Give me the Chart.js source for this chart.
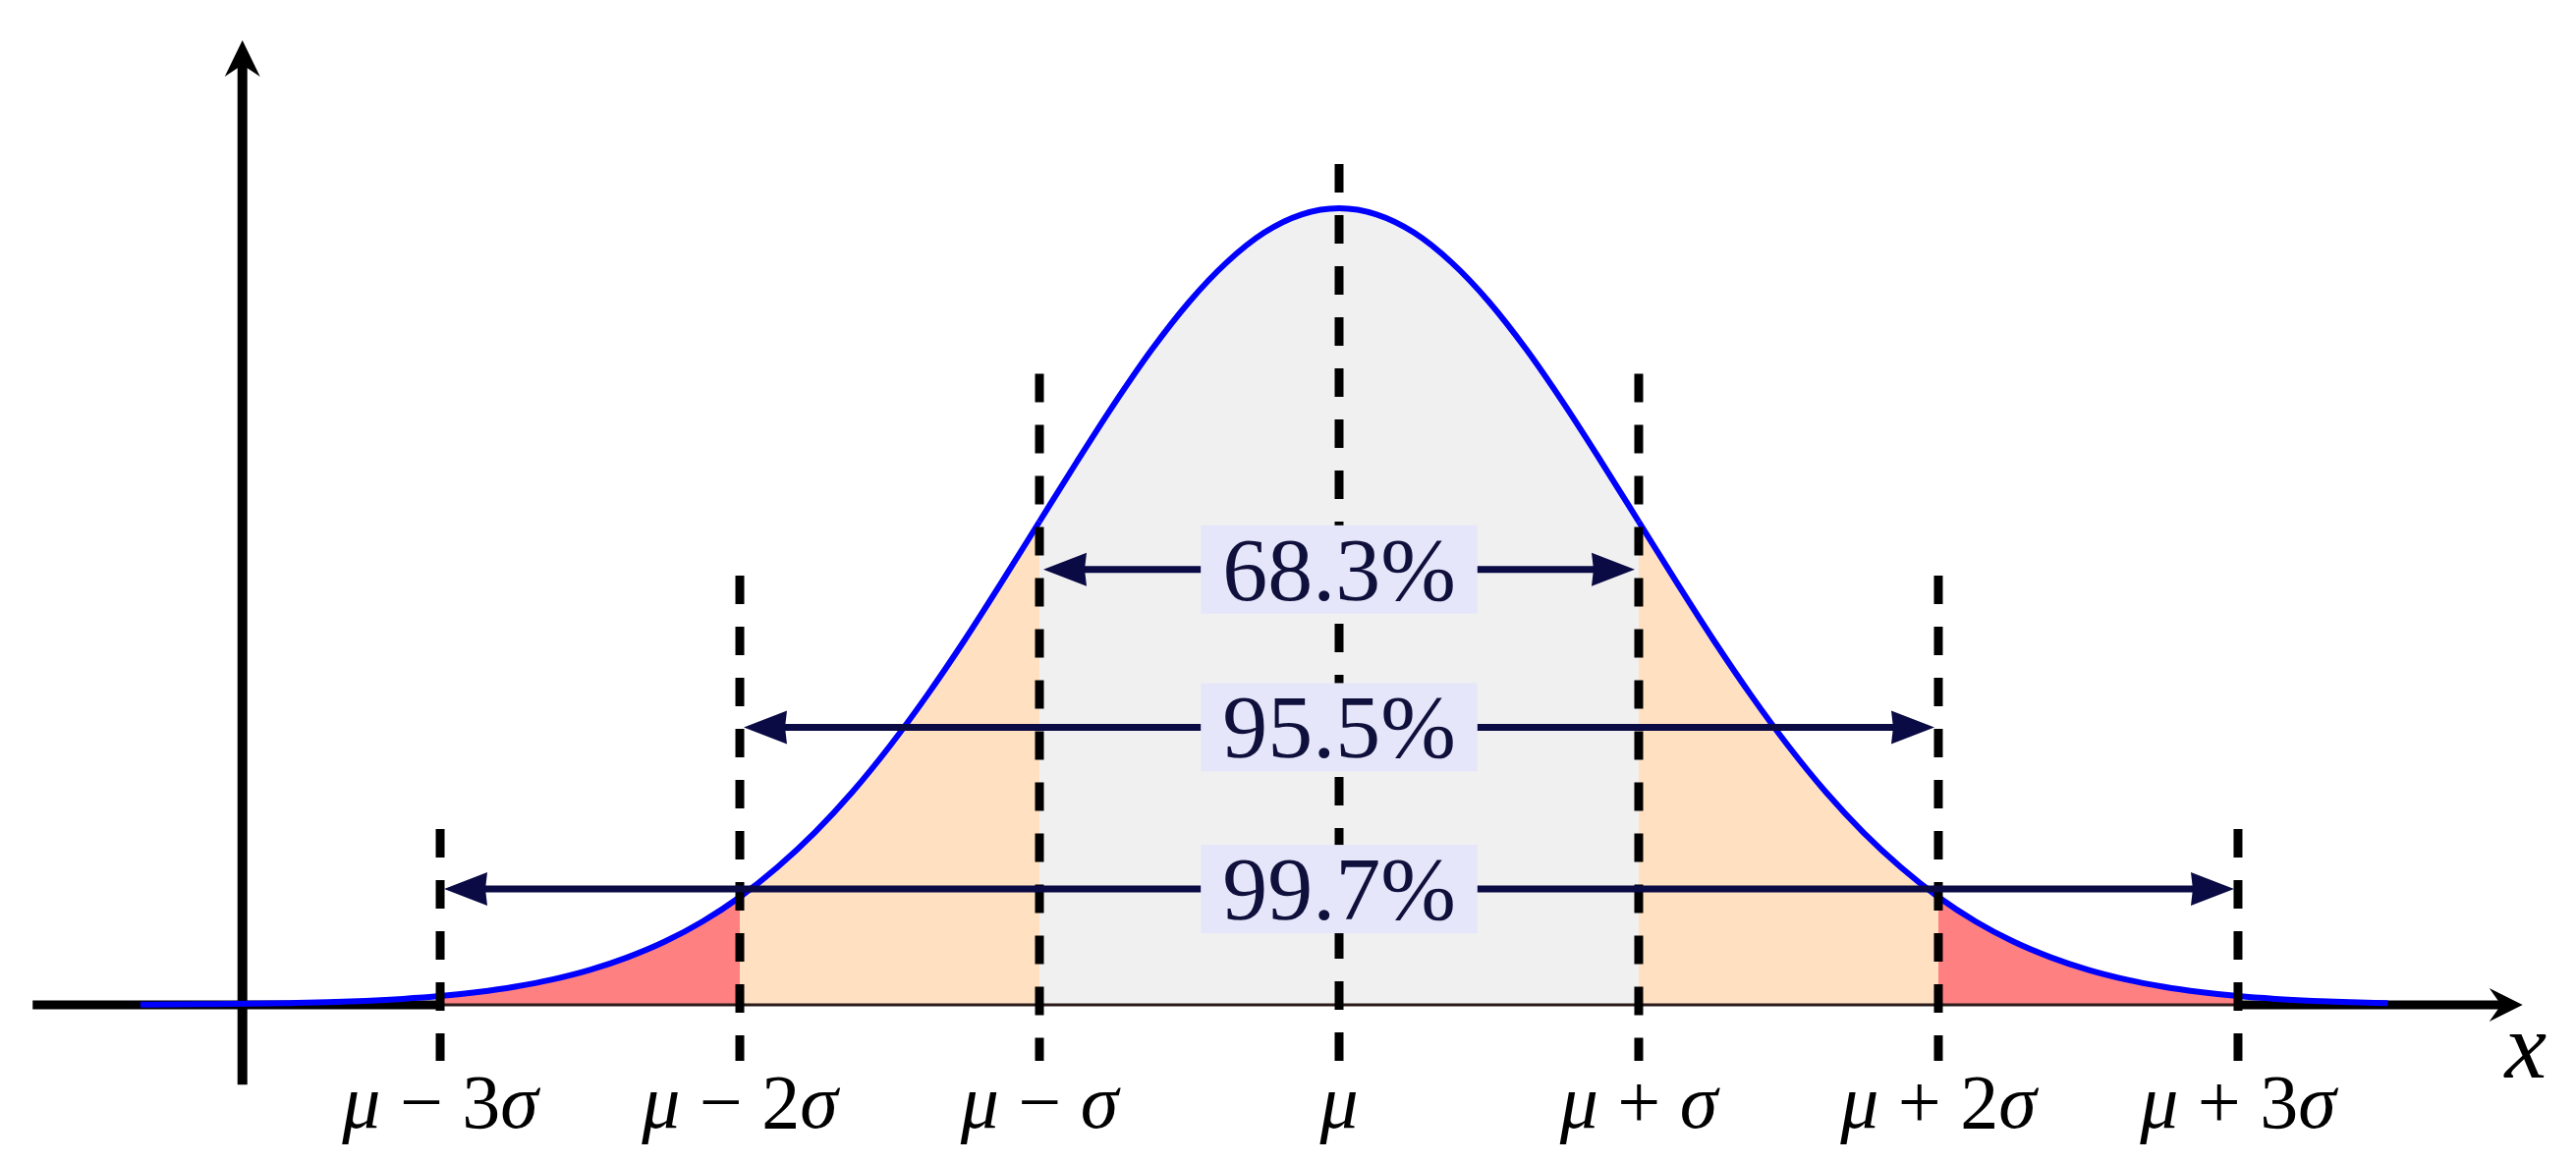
<!DOCTYPE html>
<html>
<head>
<meta charset="utf-8">
<script src="https://cdn.jsdelivr.net/npm/chart.js@4"></script>
<style>
  html, body { margin: 0; padding: 0; background: #fff; }
  #wrap { width: 2622px; height: 1184px; }
</style>
</head>
<body>
<div id="wrap"><canvas id="grafico" width="2622" height="1184"></canvas></div>
<script>
// curva: x em unidades de sigma, altura em densidade
const sigmaSteps = [-4, -3.875, -3.75, -3.625, -3.5, -3.375, -3.25, -3.125, -3, -2.875, -2.75, -2.625, -2.5, -2.375, -2.25, -2.125,
  -2, -1.875, -1.75, -1.625, -1.5, -1.375, -1.25, -1.125, -1, -0.875, -0.75, -0.625, -0.5, -0.375, -0.25, -0.125,
  0, 0.125, 0.25, 0.375, 0.5, 0.625, 0.75, 0.875, 1, 1.125, 1.25, 1.375, 1.5, 1.625, 1.75, 1.875,
  2, 2.125, 2.25, 2.375, 2.5, 2.625, 2.75, 2.875, 3, 3.125, 3.25, 3.375, 3.5];
const density = [0.0001, 0.0002, 0.0004, 0.0006, 0.0009, 0.0013, 0.0020, 0.0030, 0.0044, 0.0064, 0.0091, 0.0127, 0.0175, 0.0238, 0.0317, 0.0417,
  0.0540, 0.0689, 0.0863, 0.1065, 0.1295, 0.1550, 0.1826, 0.2119, 0.2420, 0.2720, 0.3011, 0.3282, 0.3521, 0.3718, 0.3867, 0.3958,
  0.3989, 0.3958, 0.3867, 0.3718, 0.3521, 0.3282, 0.3011, 0.2720, 0.2420, 0.2119, 0.1826, 0.1550, 0.1295, 0.1065, 0.0863, 0.0689,
  0.0540, 0.0417, 0.0317, 0.0238, 0.0175, 0.0127, 0.0091, 0.0064, 0.0044, 0.0030, 0.0020, 0.0013, 0.0009];

// linhas tracejadas e rotulos do eixo
const markerSteps = [-3, -2, -1, 0, 1, 2, 3];
const markerLabels = ['μ − 3σ', 'μ − 2σ', 'μ − σ', 'μ', 'μ + σ', 'μ + 2σ', 'μ + 3σ'];
const markerTops = [0.088, 0.215, 0.316, 0.421, 0.316, 0.215, 0.088];

// setas de intervalo
const rangeLabels = ['68.3%', '95.5%', '99.7%'];
const rangeSpans = [1, 2, 3];
const rangeLevels = [0.218, 0.139, 0.058];

const axisLabel = 'x';

const CORES = { cinza: '#f0f0f0', pessego: '#ffe0c0', vermelho: '#ff8080', azul: '#0000ff', marinho: '#0a0a44', caixa: '#e6e6fa' };

function corRegiao(ctx) {
  const m = Math.abs((ctx.p0.parsed.x + ctx.p1.parsed.x) / 2);
  if (m < 1) return CORES.cinza;
  if (m < 2) return CORES.pessego;
  if (m < 3) return CORES.vermelho;
  return 'rgba(0,0,0,0)';
}

function linha(ctx, x1, y1, x2, y2) {
  ctx.beginPath();
  ctx.moveTo(x1, y1);
  ctx.lineTo(x2, y2);
  ctx.stroke();
}

// ponta de seta "stealth": (dx, dy) = direcao unitaria
function ponta(ctx, tx, ty, dx, dy, comp, meia, recuo) {
  const nx = -dy, ny = dx;
  ctx.beginPath();
  ctx.moveTo(tx, ty);
  ctx.lineTo(tx - dx * comp + nx * meia, ty - dy * comp + ny * meia);
  ctx.lineTo(tx - dx * (comp - recuo), ty - dy * (comp - recuo));
  ctx.lineTo(tx - dx * comp - nx * meia, ty - dy * comp - ny * meia);
  ctx.closePath();
  ctx.fill();
}

function desenhaRotulo(ctx, texto, cx, base, tamanho) {
  const partes = [];
  for (const ch of texto) {
    const it = /[μσx]/.test(ch);
    if (partes.length && partes[partes.length - 1].it === it) partes[partes.length - 1].t += ch;
    else partes.push({ t: ch, it });
  }
  const fonte = p => (p.it ? 'italic ' : '') + tamanho + 'px "Liberation Serif"';
  let w = 0;
  partes.forEach(p => { ctx.font = fonte(p); p.w = ctx.measureText(p.t).width; w += p.w; });
  let xx = cx - w / 2;
  partes.forEach(p => { ctx.font = fonte(p); ctx.fillText(p.t, xx, base); xx += p.w; });
}

const desenho = {
  id: 'desenho',
  beforeDatasetsDraw(chart) {
    const { ctx, scales: { x, y } } = chart;
    const y0 = y.getPixelForValue(0);
    ctx.save();
    ctx.strokeStyle = '#000';
    ctx.fillStyle = '#000';
    // eixo x grosso fora de +-3 sigma
    ctx.lineWidth = 9;
    linha(ctx, x.getPixelForValue(-4.36), y0, x.getPixelForValue(-3), y0);
    const xFim = x.getPixelForValue(3.95);
    linha(ctx, x.getPixelForValue(3), y0, xFim - 20, y0);
    ponta(ctx, xFim, y0, 1, 0, 34, 17, 12);
    // eixo y
    const xa = x.getPixelForValue(-3.66);
    const yTopo = y.getPixelForValue(0.483);
    ctx.lineWidth = 10;
    linha(ctx, xa, yTopo + 20, xa, y.getPixelForValue(-0.040));
    ponta(ctx, xa, yTopo, 0, -1, 37, 18, 12);
    ctx.restore();
  },
  afterDatasetsDraw(chart) {
    const { ctx, scales: { x, y } } = chart;
    const y0 = y.getPixelForValue(0);
    ctx.save();
    // linha fina da base sob o preenchimento
    ctx.strokeStyle = '#2a1a1a';
    ctx.lineWidth = 3;
    linha(ctx, x.getPixelForValue(-3), y0, x.getPixelForValue(3), y0);

    // linhas tracejadas
    ctx.strokeStyle = '#000';
    ctx.lineWidth = 9;
    ctx.setLineDash([29, 23]);
    markerSteps.forEach((s, i) => {
      const px = x.getPixelForValue(s);
      linha(ctx, px, y.getPixelForValue(markerTops[i]), px, y.getPixelForValue(-0.028));
    });
    ctx.setLineDash([]);

    // setas com percentuais
    rangeLabels.forEach((txt, i) => {
      const yy = y.getPixelForValue(rangeLevels[i]);
      const xe = x.getPixelForValue(-rangeSpans[i]) + 4;
      const xd = x.getPixelForValue(rangeSpans[i]) - 4;
      ctx.strokeStyle = CORES.marinho;
      ctx.fillStyle = CORES.marinho;
      ctx.lineWidth = 7;
      linha(ctx, xe + 30, yy, xd - 30, yy);
      ponta(ctx, xe, yy, -1, 0, 44, 17, 2);
      ponta(ctx, xd, yy, 1, 0, 44, 17, 2);

      ctx.font = '92px "Liberation Serif"';
      const w = ctx.measureText(txt).width;
      const cx = x.getPixelForValue(0);
      ctx.fillStyle = CORES.caixa;
      ctx.fillRect(cx - w / 2 - 22, yy - 45, w + 44, 90);
      ctx.fillStyle = '#10103c';
      ctx.textAlign = 'center';
      ctx.textBaseline = 'alphabetic';
      ctx.fillText(txt, cx, yy + 31);
    });

    // rotulos do eixo x
    ctx.fillStyle = '#000';
    ctx.textAlign = 'left';
    ctx.textBaseline = 'alphabetic';
    markerLabels.forEach((lab, i) => {
      desenhaRotulo(ctx, lab, x.getPixelForValue(markerSteps[i]), y.getPixelForValue(-0.0615), 78);
    });
    desenhaRotulo(ctx, axisLabel, x.getPixelForValue(3.96), y.getPixelForValue(-0.0365), 96);
    ctx.restore();
  }
};

new Chart(document.getElementById('grafico'), {
  type: 'line',
  data: {
    datasets: [{
      label: 'densidade',
      data: sigmaSteps.map((s, i) => ({ x: s, y: density[i] })),
      borderColor: CORES.azul,
      borderWidth: 6,
      backgroundColor: CORES.cinza,
      fill: 'origin',
      cubicInterpolationMode: 'monotone',
      pointRadius: 0,
      segment: { backgroundColor: corRegiao }
    }]
  },
  options: {
    responsive: false,
    devicePixelRatio: 1,
    animation: false,
    layout: { padding: 0 },
    plugins: { legend: { display: false }, tooltip: { enabled: false } },
    scales: {
      x: { type: 'linear', min: -4.469, max: 4.128, display: false },
      y: { min: -0.0792, max: 0.5032, display: false }
    }
  },
  plugins: [desenho]
});
</script>
</body>
</html>
